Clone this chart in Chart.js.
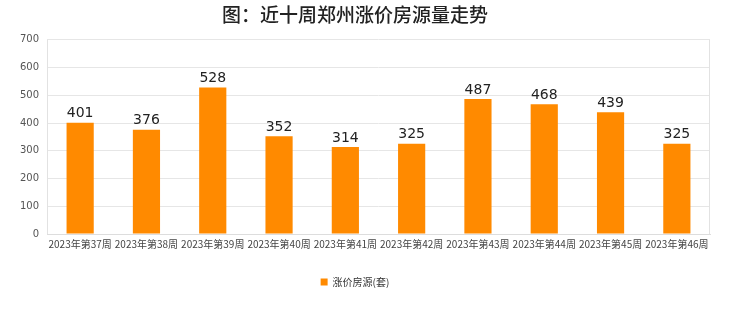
<!DOCTYPE html>
<html>
<head>
<meta charset="utf-8">
<script src="https://cdn.jsdelivr.net/npm/chart.js@4/dist/chart.umd.min.js"></script>
<style>
  html, body { margin: 0; padding: 0; background: #fff; }
  #wrap { width: 740px; height: 312px; }
</style>
</head>
<body>
<div id="wrap"><canvas id="priceUpChart" width="740" height="312"></canvas></div>
<script>
const weeks = ['2023年第37周', '2023年第38周', '2023年第39周', '2023年第40周', '2023年第41周',
               '2023年第42周', '2023年第43周', '2023年第44周', '2023年第45周', '2023年第46周']
const listings = [401, 376, 528, 352, 314, 325, 487, 468, 439, 325]
const yTicks = [0, 100, 200, 300, 400, 500, 600, 700]

const cjk = "'Noto Sans CJK SC', 'DejaVu Sans', sans-serif"

// numbers above each bar + thin frame round the plot area
const barLabels = {
    id: 'barLabels',
    beforeDatasetsDraw(chart) {
        const { ctx, chartArea: a } = chart
        ctx.save()
        ctx.strokeStyle = '#e2e2e2'
        ctx.lineWidth = 1
        ctx.beginPath()
        ctx.moveTo(Math.round(a.left) + 0.5, a.top)
        ctx.lineTo(Math.round(a.left) + 0.5, a.bottom)
        ctx.moveTo(Math.round(a.right) - 0.5, a.top)
        ctx.lineTo(Math.round(a.right) - 0.5, a.bottom)
        ctx.stroke()
        ctx.restore()
    },
    afterDatasetsDraw(chart) {
        const ctx = chart.ctx
        const meta = chart.getDatasetMeta(0)
        ctx.save()
        ctx.font = "14px 'DejaVu Sans', sans-serif"
        ctx.fillStyle = '#222'
        ctx.textAlign = 'center'
        ctx.textBaseline = 'bottom'
        meta.data.forEach((bar, i) => {
            ctx.fillText(listings[i], bar.x, bar.y - 2)
        })
        ctx.restore()
    }
}

new Chart(document.getElementById('priceUpChart').getContext('2d'), {
    type: 'bar',
    data: {
        labels: weeks,
        datasets: [{
            label: '涨价房源(套)',
            data: listings,
            backgroundColor: '#ff8a00',
            borderWidth: 0,
            categoryPercentage: 1,
            barPercentage: 0.41,
        }]
    },
    options: {
        responsive: false,
        animation: false,
        layout: { padding: { left: 0, right: 30, top: 0, bottom: 15 } },
        plugins: {
            title: {
                display: true,
                text: '图：近十周郑州涨价房源量走势',
                font: { family: cjk, size: 19, weight: '500' },
                color: '#222',
                padding: { top: 3, bottom: 14 }
            },
            legend: {
                position: 'bottom',
                labels: {
                    boxWidth: 7,
                    boxHeight: 7,
                    color: '#333',
                    font: { family: cjk, size: 10 },
                    padding: 18
                }
            },
            tooltip: { enabled: false }
        },
        scales: {
            x: {
                grid: { display: false, drawTicks: false },
                border: { color: '#ddd' },
                afterFit(scale) { scale.height += 5 },
                ticks: {
                    color: '#444',
                    font: { family: cjk, size: 10 },
                    maxRotation: 0,
                    autoSkip: false,
                    padding: 4
                }
            },
            y: {
                min: 0,
                max: 700,
                afterBuildTicks(scale) {
                    scale.ticks = yTicks.map(v => ({ value: v }))
                },
                afterFit(scale) { scale.width = 47 },
                grid: { color: '#e6e6e6', drawTicks: false },
                border: { display: false },
                ticks: {
                    color: '#555',
                    font: { family: "'DejaVu Sans', sans-serif", size: 10 },
                    padding: 8
                }
            }
        }
    },
    plugins: [barLabels]
})
</script>
</body>
</html>
